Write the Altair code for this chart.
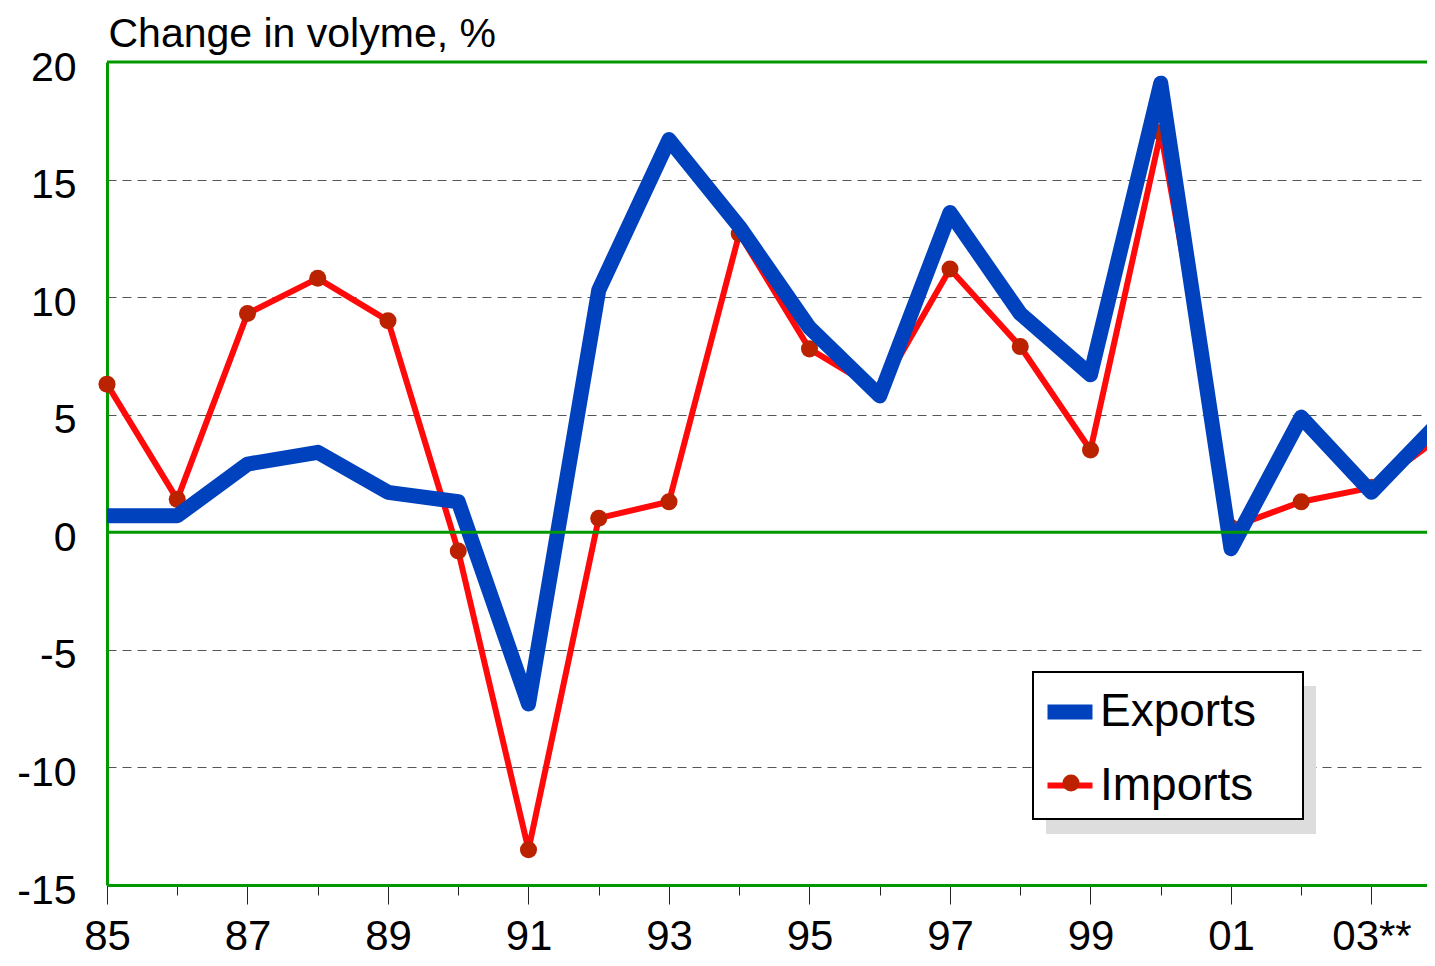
import altair as alt
import pandas as pd

years = list(range(1985, 2005))
exports = [0.7, 0.7, 2.9, 3.4, 1.7, 1.3, -7.3, 10.3, 16.7, 13.0, 8.7, 5.8, 13.6, 9.3, 6.7, 19.1, -0.7, 4.9, 1.7, 4.8]
imports = [6.3, 1.4, 9.3, 10.8, 9.0, -0.8, -13.5, 0.6, 1.3, 12.7, 7.8, 6.0, 11.2, 7.9, 3.5, 17.0, 0.2, 1.3, 1.9, 4.1]
series_names = ["Exports", "Imports"]
series_colors = ["#0042BE", "#FF0A0A"]
series_widths = [15, 6]
marker_color = "#BB2200"
shadow_color = "#DDDDDD"
frame_lines = [20, 0]
y_ticks = [-15, -10, -5, 0, 5, 10, 15, 20]
x_ticks = list(range(1985, 2004))
title_text = "Change in volyme, %"

FONT = "Liberation Sans"
GREEN = "#009900"

rows = []
for name, vals in zip(series_names, [exports, imports]):
    for yr, v in zip(years, vals):
        rows.append({"year": yr, "value": v, "series": name, "series_p": name})
df = pd.DataFrame(rows)
hl = pd.DataFrame({"value": frame_lines})

x_axis = alt.Axis(
    values=x_ticks,
    labelExpr="datum.value % 2 == 1 ? (datum.value == 2003 ? '03**' : slice(toString(datum.value), 2)) : ''",
    grid=False,
    domainColor=GREEN, domainWidth=3,
    tickColor="#222", tickWidth=1,
    tickSize={"condition": {"test": "datum.value % 2 == 0", "value": 10}, "value": 19},
    labelFontSize=42, labelFont=FONT, labelColor="black",
    labelBaseline="alphabetic", labelPadding=45,
    labelFlush=False, labelOverlap=False,
    title=None,
)
y_axis = alt.Axis(
    values=y_ticks,
    labelExpr="toString(datum.value)",
    grid=True, gridColor="#555555", gridWidth=1, gridDash=[9, 6],
    gridOpacity={"condition": {"test": "datum.value == 0 || datum.value == 20 || datum.value == -15", "value": 0}, "value": 1},
    domainColor=GREEN, domainWidth=3,
    ticks=False, tickSize=0,
    labelFontSize=41, labelFont=FONT, labelColor="black",
    labelBaseline="alphabetic", labelOffset=18, labelPadding=31,
    labelFlush=False,
    title=title_text, titleAngle=0, titleAlign="left", titleBaseline="alphabetic",
    titleX=1, titleY=-16, titleFontSize=41, titleFont=FONT, titleFontWeight="normal", titleColor="black",
)

xs = alt.Scale(domain=[1985, 1985 + 1320 / 70.25], nice=False, zero=False)
ys = alt.Scale(domain=[-15, 20], nice=False, zero=False)
X = alt.X("year:Q", scale=xs, axis=x_axis)
Y = alt.Y("value:Q", scale=ys, axis=y_axis)

# legend drop shadow: a solid grey gradient legend behind the main legend
shadow = alt.Chart(df).mark_point(opacity=0, size=0).encode(
    x=X, y=Y,
    fill=alt.Fill("value:Q", scale=alt.Scale(range=[shadow_color, shadow_color]), legend=alt.Legend(
        orient="none", legendX=939, legendY=624, title=None, direction="horizontal",
        gradientLength=270, gradientThickness=148, gradientStrokeWidth=0,
        labelExpr="''", labelFontSize=1, labelOpacity=0, padding=0, zindex=0,
    )),
)

color_enc = alt.Color("series:N", scale=alt.Scale(domain=series_names, range=series_colors), legend=alt.Legend(
    orient="none", legendX=926, legendY=610,
    title=" ", titleOrient="right", titlePadding=37, titleFontSize=46,
    symbolType="stroke", symbolSize=2025,
    labelFontSize=46, labelFont=FONT, labelColor="black", labelLimit=600,
    labelOffset=0, padding=10, symbolOffset=-3, rowPadding=18,
    fillColor="white", strokeColor="black", zindex=1,
))
width_enc = alt.StrokeWidth("series:N", scale=alt.Scale(domain=series_names, range=series_widths))

imp_line = alt.Chart(df).transform_filter("datum.series == 'Imports'").mark_line(
    strokeJoin="round", strokeCap="round", clip=True
).encode(x=X, y=Y, color=color_enc, strokeWidth=width_enc)

imp_pts = alt.Chart(df).transform_filter("datum.series == 'Imports' && datum.year <= 2003").mark_point(
    filled=True, size=290, color=marker_color, opacity=1, strokeWidth=0
).encode(
    x=X, y=Y,
    shape=alt.Shape("series_p:N", scale=alt.Scale(range=["circle"]), legend=alt.Legend(
        orient="none", legendX=955, legendY=712, title=None,
        symbolType="circle", symbolSize=290, symbolFillColor=marker_color, symbolStrokeWidth=0,
        symbolOpacity=1, labelExpr="''", labelFontSize=1, padding=0, rowPadding=0, labelOffset=0,
        zindex=2,
    )),
)

exp_line = alt.Chart(df).transform_filter("datum.series == 'Exports'").mark_line(
    strokeJoin="round", strokeCap="round", clip=True
).encode(x=X, y=Y, color=color_enc, strokeWidth=width_enc)

rules = alt.Chart(hl).mark_rule(color=GREEN, strokeWidth=3).encode(y=Y)

chart = alt.layer(shadow, imp_line, imp_pts, exp_line, rules).properties(
    width=1320, height=823,
    autosize=alt.AutoSizeParams(type="none"),
    padding={"left": 99, "top": 54, "right": 0, "bottom": 73},
    background="white",
).configure(font=FONT).configure_view(stroke=None).configure_legend(strokeWidth=2)

chart.save("out.html", embed_options={"renderer": "svg", "actions": False})
